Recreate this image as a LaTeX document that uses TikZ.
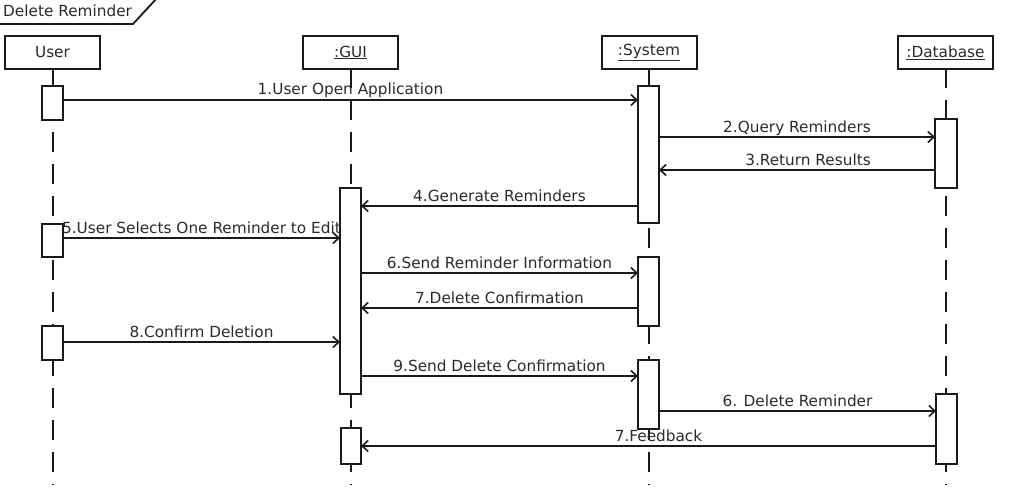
\documentclass[tikz,border=0pt]{standalone}
\usepackage{fontspec}
\setmainfont{DejaVu Sans}
\usetikzlibrary{arrows.meta}
\definecolor{ink}{HTML}{1A1A1A}
\definecolor{txt}{HTML}{2A2A2A}
\begin{document}
\begin{tikzpicture}[x=1pt,y=-1pt,
  every node/.style={font=\fontsize{15.3}{18}\selectfont, text=txt},
  objbox/.style={draw=ink, line width=2pt, fill=white, minimum width=95pt, minimum height=33pt, inner sep=0pt, anchor=north},
  actbox/.style={draw=ink, line width=2pt, fill=white},
  lifeline/.style={draw=ink, line width=2pt, dash pattern=on 20pt off 12pt},
  msg/.style={draw=ink, line width=1.8pt, -{Straight Barb[length=6pt,width=11pt,line width=1.6pt]}},
  lbl/.style={anchor=base, yshift=5pt, inner sep=0pt}]
\useasboundingbox (0,0) rectangle (1009,495);
% frame label
\draw[ink, line width=1.8pt] (-2,24) -- (133,24) -- (157,-2);
\node[anchor=base west, inner sep=0pt, text=txt] (title) at (3,17) {Delete Reminder};
% lifelines
\draw[lifeline] (52.5,68) -- (52.5,485);
\draw[lifeline] (350.5,68) -- (350.5,485);
\draw[lifeline] (649,68) -- (649,485);
\draw[lifeline] (946,68) -- (946,485);
% object boxes
\node[objbox] (user) at (52.5,35) {User};
\node[objbox] (gui) at (350.5,35) {\underline{:GUI}};
\node[objbox] (sys) at (649,35) {\underline{:System}};
\node[objbox] (db) at (945.5,35) {\underline{:Database}};
% activations
\draw[actbox] (42,86) rectangle (63,120);
\draw[actbox] (42,224) rectangle (63,257);
\draw[actbox] (42,326) rectangle (63,360);
\draw[actbox] (340,188) rectangle (361,394);
\draw[actbox] (341,428) rectangle (361,464);
\draw[actbox] (638,86) rectangle (659,223);
\draw[actbox] (638,257) rectangle (659,326);
\draw[actbox] (638,360) rectangle (659,429);
\draw[actbox] (935,119) rectangle (957,188);
\draw[actbox] (936,394) rectangle (957,464);
% anchor coordinates for messages
\coordinate (m1a) at (63,100);   \coordinate (m1b) at (638,100);
\coordinate (m2a) at (659,137);  \coordinate (m2b) at (935,137);
\coordinate (m3a) at (935,170);  \coordinate (m3b) at (659,170);
\coordinate (m4a) at (638,206);  \coordinate (m4b) at (361,206);
\coordinate (m5a) at (63,238);   \coordinate (m5b) at (340,238);
\coordinate (m6a) at (361,273);  \coordinate (m6b) at (638,273);
\coordinate (m7a) at (638,308);  \coordinate (m7b) at (361,308);
\coordinate (m8a) at (63,342);   \coordinate (m8b) at (340,342);
\coordinate (m9a) at (361,376);  \coordinate (m9b) at (638,376);
\coordinate (m10a) at (659,411); \coordinate (m10b) at (936,411);
\coordinate (m11a) at (936,446); \coordinate (m11b) at (361,446);
% messages
\draw[msg] (m1a) -- node[lbl] (l1) {1.User Open Application} (m1b);
\draw[msg] (m2a) -- node[lbl] (l2) {2.Query Reminders} (m2b);
\draw[msg] (m3a) -- node[lbl, xshift=11pt] (l3) {3.Return Results} (m3b);
\draw[msg] (m4a) -- node[lbl] (l4) {4.Generate Reminders} (m4b);
\draw[msg] (m5a) -- node[lbl] (l5) {5.User Selects One Reminder to Edit} (m5b);
\draw[msg] (m6a) -- node[lbl] (l6) {6.Send Reminder Information} (m6b);
\draw[msg] (m7a) -- node[lbl] (l7) {7.Delete Confirmation} (m7b);
\draw[msg] (m8a) -- node[lbl] (l8) {8.Confirm Deletion} (m8b);
\draw[msg] (m9a) -- node[lbl] (l9) {9.Send Delete Confirmation} (m9b);
\draw[msg] (m10a) -- node[lbl] (l10) {6. Delete Reminder} (m10b);
\draw[msg] (m11a) -- node[lbl, xshift=10pt] (l11) {7.Feedback} (m11b);
\end{tikzpicture}
\end{document}
